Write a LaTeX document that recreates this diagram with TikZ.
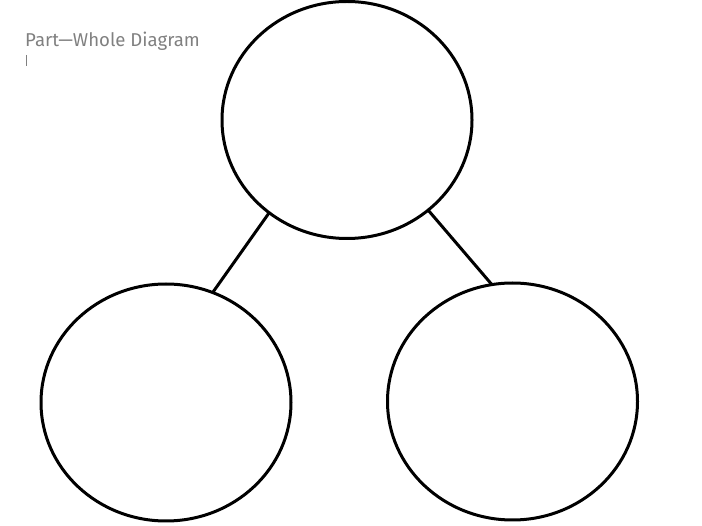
\documentclass[tikz,border=0pt]{standalone}
\usepackage{fontspec}
\usetikzlibrary{shapes.geometric}
\newfontfamily\titlefont{Fira Sans}
\definecolor{titlegray}{HTML}{808080}
\tikzset{
  partcircle/.style={ellipse, draw=black, line width=3pt, minimum width=250pt, minimum height=237pt, inner sep=0pt, outer sep=0pt},
  link/.style={line width=3pt, draw=black},
  titletext/.style={font=\titlefont\fontsize{18.6}{21}\selectfont, text=titlegray, inner sep=0pt, anchor=base west}
}
\begin{document}
\begin{tikzpicture}[x=1pt,y=-1pt]
\useasboundingbox (0,0) rectangle (702,526);
\node[partcircle] (whole) at (347,120) {};
\node[partcircle] (left) at (166,402.5) {};
\node[partcircle] (right) at (512.5,401.5) {};
\draw[link] (whole.230.7) -- (left.67);
\draw[link] (whole.312.3) -- (right.100.2);
\node[titletext] (title) at (25,47) {Part—Whole Diagram};
\coordinate (cursortop) at (26.5,55);
\coordinate (cursorbot) at (26.5,66);
\draw[titlegray, line width=1pt] (cursortop) -- (cursorbot);
\end{tikzpicture}
\end{document}
